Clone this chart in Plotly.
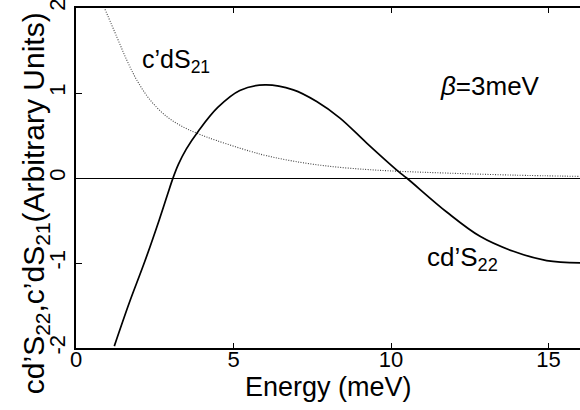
import plotly.graph_objects as go

# cd'S22 (solid curve)
s22_x = [1.216, 1.692, 2.168, 2.644, 2.9, 3.07, 3.25, 3.5, 3.9, 4.5, 5.2, 6.0, 6.898,
         7.641, 8.381, 9.229, 10.232, 10.498, 11.768, 12.825, 13.883, 14.943, 16.0]
s22_y = [-1.978, -1.468, -0.998, -0.490, -0.20, -0.01, 0.16, 0.34, 0.56, 0.83, 1.03, 1.096, 1.037,
         0.900, 0.705, 0.411, 0.078, 0.0, -0.40, -0.686, -0.862, -0.971, -0.998]

# c'dS21 (dotted curve)
s21_x = [0.92, 1.292, 1.610, 1.927, 2.349, 2.879, 3.406, 3.883, 4.467, 5.524, 6.054, 7.111,
         8.168, 9.229, 10.181, 11.768, 13.883, 16.0]
s21_y = [1.985, 1.663, 1.389, 1.154, 0.920, 0.723, 0.600, 0.520, 0.440, 0.315, 0.262, 0.185,
         0.133, 0.100, 0.080, 0.058, 0.034, 0.019]

x_ticks = [0, 5, 10, 15]
y_ticks = [-2, -1, 0, 1, 2]

FONT = "Liberation Sans, Arial, sans-serif"

fig = go.Figure()
fig.add_trace(go.Scatter(x=s21_x, y=s21_y, mode="lines",
                         line=dict(color="#444444", width=1.1, dash="1px,1.5px", shape="spline"),
                         showlegend=False, hoverinfo="skip"))
fig.add_trace(go.Scatter(x=s22_x, y=s22_y, mode="lines",
                         line=dict(color="black", width=1.7, shape="spline"),
                         showlegend=False, hoverinfo="skip"))

fig.update_layout(
    width=580, height=410,
    margin=dict(l=76, r=0, t=8, b=62),
    paper_bgcolor="white", plot_bgcolor="white",
    font=dict(family=FONT, color="black"),
    xaxis=dict(range=[0, 16], tickvals=x_ticks, ticktext=[str(v) for v in x_ticks],
               ticks="inside", ticklen=5, tickwidth=1, tickcolor="black",
               showline=True, linecolor="black", linewidth=1.5, mirror="ticks",
               showgrid=False, zeroline=False, ticklabelstandoff=-9,
               ticklabeloverflow="allow",
               tickfont=dict(size=22, family=FONT)),
    yaxis=dict(range=[-2, 2], tickvals=y_ticks, ticktext=[str(v) for v in y_ticks],
               ticks="inside", ticklen=6, tickwidth=1, tickcolor="black",
               showline=True, linecolor="black", linewidth=1.5, mirror=False,
               showgrid=False, zeroline=True, zerolinecolor="black", zerolinewidth=1.4,
               ticklabeloverflow="allow",
               tickangle=-90, tickfont=dict(size=22, family=FONT)),
    annotations=[
        dict(text="Energy (meV)", xref="paper", yref="paper", x=0.501, y=-0.116,
             xanchor="center", yanchor="middle", showarrow=False,
             font=dict(size=27, family=FONT)),
        dict(text="cd’S<sub>22</sub>,c’dS<sub>21</sub>(Arbitrary Units)",
             xref="paper", yref="paper", x=-0.080, y=0.425, textangle=-90,
             xanchor="center", yanchor="middle", showarrow=False,
             font=dict(size=30, family=FONT)),
        dict(text="c’dS<sub>21</sub>", xref="x", yref="y", x=2.03, y=1.377,
             xanchor="left", yanchor="middle", showarrow=False,
             font=dict(size=25, family=FONT)),
        dict(text="cd’S<sub>22</sub>", xref="x", yref="y", x=11.08, y=-0.95,
             xanchor="left", yanchor="middle", showarrow=False,
             font=dict(size=26, family=FONT)),
        dict(text="<i>β</i>=3meV", xref="x", yref="y", x=11.49, y=1.084,
             xanchor="left", yanchor="middle", showarrow=False,
             font=dict(size=26, family=FONT)),
    ],
)

fig.write_html("out.html")
